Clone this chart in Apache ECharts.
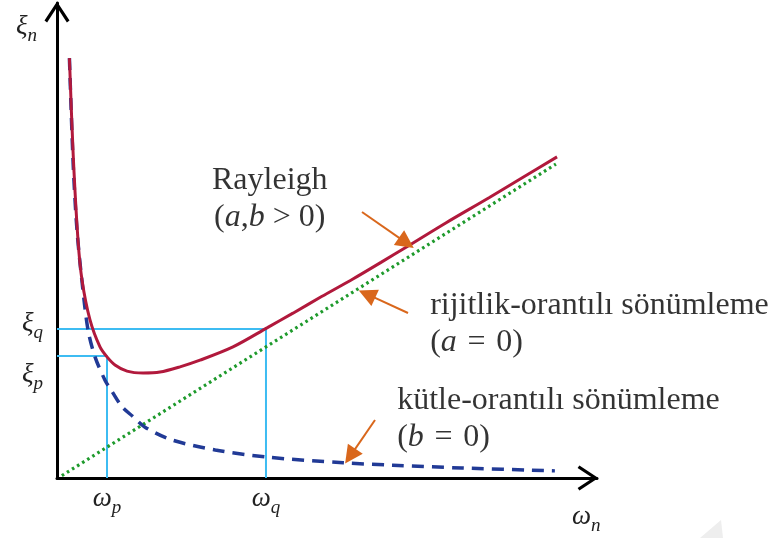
<!DOCTYPE html>
<html>
<head>
<meta charset="utf-8">
<script src="https://cdn.jsdelivr.net/npm/echarts@6/dist/echarts.min.js"></script>
<style>html,body{margin:0;padding:0;background:#fff}#c{width:774px;height:538px}</style>
</head>
<body>
<div id="c"></div>
<script>
// ---- data (arbitrary units) ----
const rayleighX = [0.23, 0.3, 0.389, 0.463, 0.611, 0.796, 0.926, 1.074, 1.296, 1.593, 1.907, 2.278, 2.648, 3.259, 3.889, 4.37, 4.9, 5.48, 6.0, 6.48, 7.2, 8.0, 8.6, 9.26];
const rayleighY = [8.84, 6.8, 5.01, 4.17, 3.33, 2.76, 2.55, 2.38, 2.25, 2.21, 2.23, 2.34, 2.48, 2.76, 3.16, 3.47, 3.82, 4.19, 4.54, 4.87, 5.37, 5.9, 6.31, 6.76];
const massX = [0.23, 0.3, 0.37, 0.46, 0.574, 0.704, 0.889, 1.02, 1.204, 1.4, 1.63, 2.13, 2.93, 3.89, 5.3, 6.22, 7.5, 9.22];
const massY = [8.84, 6.6, 5.22, 4.17, 3.12, 2.55, 2.06, 1.82, 1.5, 1.3, 1.07, 0.8, 0.59, 0.44, 0.32, 0.27, 0.21, 0.15];
const stiffX = [0.09, 9.24];
const stiffY = [0.05, 6.61];
const omegaP = 0.926, omegaQ = 3.87;
const xiP = 2.568, xiQ = 3.137;
const xTickValues = [omegaP, omegaQ];
const xTickLabels = ['{m|ω}{s|p}', '{m|ω}{s|q}'];
const yTickValues = [3.28, 2.21];
const yTickLabels = ['{m|ξ}{s|q}', '{m|ξ}{s|p}'];
const centerNotes = [[3.94, 5.88, '{r|Rayleigh}\n{r|(}{i|a}{r|,}{i|b}{r| > 0)}']];
const leftNotes = [
  [6.91, 3.24, '{r|rijitlik-orantılı sönümleme}\n{r|(}{i|a}{r|\u2004=\u20040)}'],
  [6.30, 1.25, '{r|kütle-orantılı sönümleme}\n{r|(}{i|b}{r|\u2004=\u20040)}']
];
const arrows = [[[5.648, 5.60], [6.47, 4.95]], [[6.5, 3.474], [5.74, 3.87]], [[5.889, 1.221], [5.43, 0.46]]];

const zip = (xs, ys) => xs.map((x, i) => [x, ys[i]]);
const chevron = 'path://M0,19 L12.5,0 L25,19 L22.4,20.8 L12.5,5.6 L2.6,20.8 Z';
const serif = '"Liberation Serif", "Times New Roman", Tinos, "DejaVu Serif", serif';
const rich = {
  m: {fontFamily: serif, fontStyle: 'italic', fontSize: 27, color: '#222', lineHeight: 30, verticalAlign: 'bottom'},
  s: {fontFamily: serif, fontStyle: 'italic', fontSize: 19, color: '#222', lineHeight: 22, verticalAlign: 'bottom', padding: [0, 0, -5, 0]}
};
const noteRich = {
  r: {fontFamily: serif, fontSize: 32, lineHeight: 37, color: '#000'},
  i: {fontFamily: serif, fontStyle: 'italic', fontSize: 32, lineHeight: 37, color: '#000'}
};
const noteLabel = {show: true, fontFamily: serif, fontSize: 32, lineHeight: 37, color: '#000', rich: noteRich, formatter: p => p.data[2]};

const chart = echarts.init(document.getElementById('c'));
chart.setOption({
  animation: false,
  backgroundColor: '#fff',
  graphic: [{type: 'polygon', silent: true, shape: {points: [[700, 538], [721, 520], [723, 538]]}, style: {fill: '#eeeeee'}}],
  grid: {left: 57, right: 177, top: 3, bottom: 60, containLabel: false, outerBoundsMode: 'none'},
  xAxis: {
    type: 'value', min: 0, max: 10,
    splitLine: {show: false}, axisTick: {show: false},
    axisLine: {lineStyle: {color: '#000', width: 3}, symbol: ['none', chevron], symbolSize: [25, 21], symbolOffset: [0, -9]},
    axisLabel: {customValues: xTickValues, margin: 4, formatter: v => xTickLabels[xTickValues.indexOf(v)], rich: rich},
    name: '{m|ω}{s|n}', nameLocation: 'end', nameGap: -25, nameMoveOverlap: false,
    nameTextStyle: {rich: rich, align: 'left', verticalAlign: 'top', padding: [22, 0, 0, 0]}
  },
  yAxis: {
    type: 'value', min: 0, max: 10,
    splitLine: {show: false}, axisTick: {show: false},
    axisLine: {lineStyle: {color: '#000', width: 3}, symbol: ['none', chevron], symbolSize: [25, 21], symbolOffset: [0, -9]},
    axisLabel: {customValues: yTickValues, margin: 14, formatter: v => yTickLabels[yTickValues.indexOf(v)], rich: rich},
    name: '{m|ξ}{s|n}', nameLocation: 'end', nameGap: -37, nameMoveOverlap: false,
    nameTextStyle: {rich: rich, align: 'right', verticalAlign: 'bottom', padding: [0, 20, 0, 0]}
  },
  series: [
    {type: 'line', name: 'guideP', data: [[0, xiP], [omegaP, xiP], [omegaP, 0]], symbol: 'none', z: 1,
     lineStyle: {color: '#3dbcf2', width: 2}},
    {type: 'line', name: 'guideQ', data: [[0, xiQ], [omegaQ, xiQ], [omegaQ, 0]], symbol: 'none', z: 1,
     lineStyle: {color: '#3dbcf2', width: 2}},
    {type: 'line', name: 'rijitlik', data: zip(stiffX, stiffY), symbol: 'none', z: 2,
     lineStyle: {color: '#1e9a2c', width: 3.2, type: [2.6, 3.4]}},
    {type: 'line', name: 'kütle', data: zip(massX, massY), symbol: 'none', smooth: 0.3, z: 3,
     lineStyle: {color: '#213a96', width: 3.5, type: [12, 8]}},
    {type: 'line', name: 'Rayleigh', data: zip(rayleighX, rayleighY), symbol: 'none', smooth: 0.3, z: 4,
     lineStyle: {color: '#b1193c', width: 3}},
    {type: 'lines', coordinateSystem: 'cartesian2d', z: 5, symbol: ['none', 'triangle'], symbolSize: 18,
     lineStyle: {color: '#d9671c', width: 2, opacity: 1},
     data: arrows.map(a => ({coords: a}))},
    {type: 'scatter', symbolSize: 0, z: 6, data: centerNotes,
     label: Object.assign({}, noteLabel, {position: 'inside', align: 'center'})},
    {type: 'scatter', symbolSize: 0, z: 6, data: leftNotes,
     label: Object.assign({}, noteLabel, {position: 'right', distance: 0, align: 'left'})}
  ]
});
</script>
</body>
</html>
